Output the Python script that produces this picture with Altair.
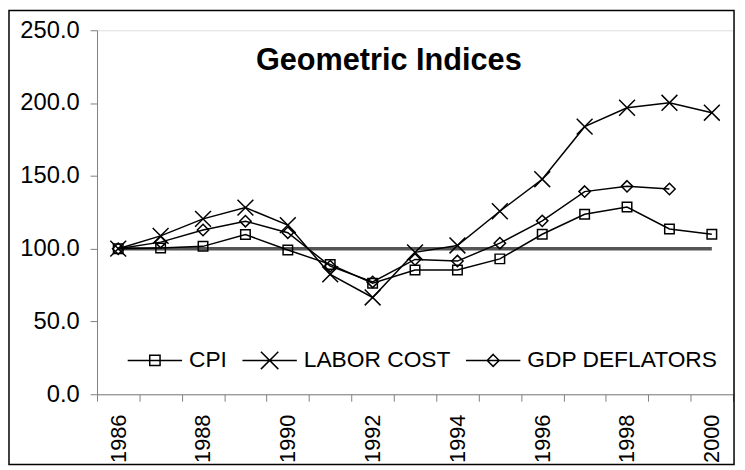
import altair as alt
import pandas as pd

# ---- data ----
years = list(range(1986, 2001))
cpi = [100.0, 100.5, 101.6, 109.7, 99.1, 89.2, 76.3, 85.4, 85.4, 93.0, 109.9, 123.6, 128.6, 113.5, 109.9]
labor = [100.0, 108.8, 120.5, 128.2, 116.2, 82.4, 66.5, 97.5, 102.2, 125.7, 147.7, 183.8, 196.8, 200.2, 193.4]
gdp = [100.0, 104.5, 112.8, 118.9, 111.0, 88.0, 77.2, 92.6, 91.5, 103.8, 119.1, 139.2, 142.8, 141.0]
series_names = ["CPI", "LABOR COST", "GDP DEFLATORS"]
title_text = "Geometric Indices"
baseline_value = 100.0
y_ticks = [0, 50, 100, 150, 200, 250]
x_label_years = [1986, 1988, 1990, 1992, 1994, 1996, 1998, 2000]

rows = []
for name, vals in zip(series_names, [cpi, labor, gdp]):
    for yr, v in zip(years, vals):
        rows.append({"year": yr, "value": v, "series": name})
df = pd.DataFrame(rows)

base_df = pd.DataFrame({"start": [years[0]], "end": [years[-1]], "value": [baseline_value]})
one = pd.DataFrame({"t": [title_text]})

FONT = "Liberation Sans"
GRAY = "#7f7f7f"

boundaries = [years[0] - 0.5 + i for i in range(len(years) + 1)]
x_scale = alt.Scale(domain=[years[0] - 0.5, years[-1] + 0.5], nice=False, zero=False)
y_scale = alt.Scale(domain=[0, 250], nice=False)

x_axis = alt.Axis(
    values=boundaries + x_label_years,
    labelExpr="datum.value % 1 == 0 ? format(datum.value, 'd') : ''",
    tickOpacity={"condition": {"test": "datum.value % 1 == 0", "value": 0}, "value": 1},
    tickSize=7, tickColor=GRAY, domainColor=GRAY, domainWidth=1,
    labelAngle=270, labelFont=FONT, labelFontSize=22, labelColor="black",
    labelPadding=13, labelOverlap=False, labelBound=False, labelFlush=False,
    grid=False, title=None,
)
y_axis = alt.Axis(
    values=y_ticks, format=".1f", tickSize=7, tickColor=GRAY, domainColor=GRAY,
    labelFont=FONT, labelFontSize=24, labelColor="black", labelPadding=11,
    grid=False, title=None,
)

marker_paths = [
    "M-0.6,-0.6H0.6V0.6H-0.6Z",
    "M-1,-1L1,1M-1,1L1,-1",
    "M0,-0.72L0.72,0L0,0.72L-0.72,0Z",
]
legend_paths = [
    "M-1,0H1M-0.19,-0.19H0.19V0.19H-0.19Z",
    "M-1,0H1M-0.32,-0.32L0.32,0.32M-0.32,0.32L0.32,-0.32",
    "M-1,0H1M0,-0.22L0.22,0L0,0.22L-0.22,0Z",
]

ref = alt.Chart(base_df).mark_rule(color="#555555", strokeWidth=3.5).encode(
    x=alt.X("start:Q", scale=x_scale, axis=x_axis),
    x2="end:Q",
    y=alt.Y("value:Q", scale=y_scale, axis=y_axis),
)

lines = alt.Chart(df).mark_line(color="black", strokeWidth=1.5).encode(
    x=alt.X("year:Q", scale=x_scale, axis=x_axis),
    y=alt.Y("value:Q", scale=y_scale, axis=y_axis),
    detail="series:N",
)

points = alt.Chart(df).mark_point(filled=False, color="black", strokeWidth=1.5, size=256, opacity=1).encode(
    x=alt.X("year:Q", scale=x_scale, axis=x_axis),
    y=alt.Y("value:Q", scale=y_scale, axis=y_axis),
    shape=alt.Shape("series:N", scale=alt.Scale(domain=series_names, range=marker_paths), legend=None),
)

legend_layer = alt.Chart(df).mark_point(filled=False, color="black", strokeWidth=1.5, opacity=0).encode(
    x=alt.X("year:Q", scale=x_scale, axis=x_axis),
    y=alt.Y("value:Q", scale=y_scale, axis=y_axis),
    shape=alt.Shape(
        "series:N",
        scale=alt.Scale(domain=series_names, range=legend_paths),
        legend=alt.Legend(
            orient="none", legendX=30, legendY=305, direction="horizontal", title=None,
            symbolSize=3025, symbolStrokeWidth=1.5, symbolStrokeColor="black",
            symbolFillColor="transparent", symbolOpacity=1,
            labelFont=FONT, labelFontSize=23, labelColor="black", labelOffset=6,
            columnPadding=12, padding=0, labelLimit=400,
        ),
    ),
)

title = alt.Chart(one).mark_text(
    font=FONT, fontSize=31, fontWeight="bold", color="black", align="center", baseline="alphabetic"
).encode(x=alt.value(295), y=alt.value(40), text="t:N")

border = alt.Chart(one).mark_rect(fill=None, stroke="black", strokeWidth=1.5).encode(
    x=alt.value(-89), x2=alt.value(644), y=alt.value(-20), y2=alt.value(439)
)

chart = alt.layer(ref, lines, points, legend_layer, title, border).resolve_scale(
    shape="independent"
).properties(
    width=643, height=368,
    autosize=alt.AutoSizeParams(type="none"),
    padding={"left": 90, "top": 20, "right": 4, "bottom": 72},
).configure_view(stroke=None).configure(background="white")

chart.save("out.html", embed_options={"renderer": "svg", "actions": False})
